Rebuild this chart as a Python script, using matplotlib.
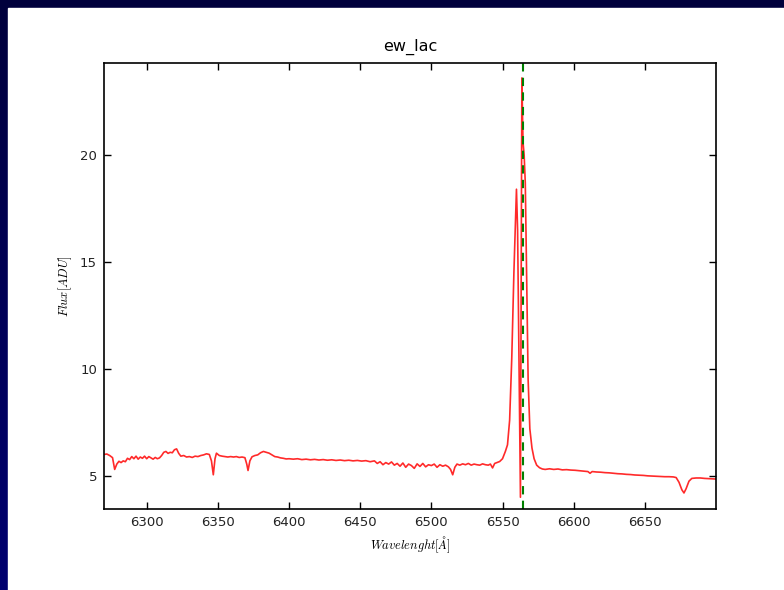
import numpy as np
import matplotlib
matplotlib.use("Agg")
import matplotlib.pyplot as plt
from matplotlib.patches import Rectangle

# spectrum
wavelength = [
    6270.0, 6272.0, 6274.0, 6276.0, 6277.5, 6279.0, 6280.5, 6282.0, 6283.5, 6285.0,
    6286.5, 6288.0, 6289.5, 6291.0, 6292.5, 6294.0, 6295.5, 6297.0, 6298.5, 6300.0,
    6301.5, 6303.0, 6304.5, 6306.0, 6307.5, 6309.0, 6310.5, 6312.0, 6313.5, 6315.0,
    6316.5, 6318.0, 6319.5, 6321.0, 6322.5, 6324.0, 6326.0, 6328.0, 6330.0, 6332.0,
    6334.0, 6336.0, 6338.0, 6340.0, 6342.0, 6344.0, 6345.5, 6346.8, 6348.0, 6349.0,
    6351.0, 6353.0, 6355.0, 6357.0, 6359.0, 6361.0, 6363.0, 6365.0, 6367.0, 6369.0,
    6370.3, 6371.2, 6372.5, 6374.0, 6376.0, 6378.0, 6380.0, 6382.0, 6384.0, 6386.0,
    6388.0, 6390.0, 6392.0, 6394.0, 6396.0, 6398.0, 6400.0, 6403.0, 6406.0, 6409.0,
    6412.0, 6415.0, 6418.0, 6421.0, 6424.0, 6427.0, 6430.0, 6433.0, 6436.0, 6439.0,
    6442.0, 6445.0, 6448.0, 6451.0, 6454.0, 6457.0, 6460.0, 6462.0, 6464.0, 6466.0,
    6468.0, 6470.0, 6472.0, 6474.0, 6476.0, 6478.0, 6480.0, 6482.0, 6484.0, 6486.0,
    6488.0, 6490.0, 6492.0, 6494.0, 6496.0, 6498.0, 6500.0, 6502.0, 6504.0, 6506.0,
    6508.0, 6510.0, 6512.0, 6513.5, 6515.0, 6516.5, 6518.0, 6520.0, 6522.0, 6524.0,
    6526.0, 6528.0, 6530.0, 6532.0, 6534.0, 6536.0, 6538.0, 6540.0, 6541.5, 6543.0,
    6544.5, 6546.0, 6548.0, 6550.0, 6552.0, 6553.5, 6555.0, 6556.5, 6558.0, 6559.8,
    6560.6, 6561.6, 6562.6, 6563.6, 6564.4, 6565.2, 6566.0, 6567.0, 6568.0, 6569.2,
    6570.7, 6572.2, 6574.0, 6576.0, 6578.0, 6580.0, 6583.0, 6586.0, 6589.0, 6592.0,
    6595.0, 6598.0, 6601.0, 6604.0, 6607.0, 6610.0, 6611.5, 6613.0, 6616.0, 6619.0,
    6622.0, 6625.0, 6628.0, 6631.0, 6634.0, 6637.0, 6640.0, 6643.0, 6646.0, 6649.0,
    6652.0, 6655.0, 6658.0, 6661.0, 6664.0, 6667.0, 6670.0, 6672.0, 6674.0, 6676.0,
    6677.5, 6679.0, 6681.0, 6683.0, 6686.0, 6689.0, 6692.0, 6695.0, 6698.0, 6700.0,
]
flux = [
    6.00, 6.02, 5.95, 5.85, 5.30, 5.55, 5.68, 5.62, 5.70, 5.66,
    5.82, 5.76, 5.90, 5.80, 5.92, 5.78, 5.88, 5.82, 5.92, 5.80,
    5.90, 5.84, 5.78, 5.86, 5.80, 5.84, 5.95, 6.10, 6.14, 6.05,
    6.10, 6.08, 6.22, 6.26, 6.05, 5.92, 5.95, 5.88, 5.90, 5.86,
    5.92, 5.90, 5.95, 5.98, 6.03, 6.00, 5.70, 5.05, 5.80, 6.06,
    5.95, 5.92, 5.90, 5.88, 5.90, 5.88, 5.90, 5.86, 5.88, 5.85,
    5.55, 5.25, 5.70, 5.89, 5.95, 5.98, 6.08, 6.14, 6.10, 6.06,
    5.98, 5.90, 5.88, 5.84, 5.82, 5.79, 5.80, 5.78, 5.80, 5.76,
    5.78, 5.75, 5.77, 5.74, 5.76, 5.73, 5.75, 5.72, 5.74, 5.71,
    5.73, 5.70, 5.72, 5.69, 5.71, 5.66, 5.70, 5.58, 5.66, 5.52,
    5.62, 5.55, 5.65, 5.50, 5.58, 5.45, 5.60, 5.40, 5.55, 5.48,
    5.35, 5.56, 5.44, 5.58, 5.42, 5.52, 5.48, 5.55, 5.40, 5.52,
    5.45, 5.50, 5.42, 5.30, 5.05, 5.40, 5.55, 5.50, 5.56, 5.52,
    5.58, 5.50, 5.55, 5.52, 5.50, 5.56, 5.52, 5.50, 5.55, 5.37,
    5.58, 5.62, 5.67, 5.80, 6.14, 6.45, 7.60, 10.5, 14.5, 18.4,
    16.5, 10.0, 4.00, 23.6, 20.6, 20.0, 18.7, 14.0, 9.5, 7.2,
    6.30, 5.80, 5.50, 5.38, 5.32, 5.30, 5.33, 5.30, 5.32, 5.28,
    5.29, 5.27, 5.26, 5.24, 5.22, 5.20, 5.12, 5.20, 5.18, 5.17,
    5.15, 5.14, 5.12, 5.10, 5.09, 5.07, 5.06, 5.04, 5.03, 5.02,
    5.00, 4.99, 4.98, 4.97, 4.96, 4.96, 4.95, 4.92, 4.70, 4.35,
    4.20, 4.40, 4.75, 4.88, 4.90, 4.90, 4.88, 4.87, 4.86, 4.85,
]
line_center = 6564.6
x_ticks = [6300, 6350, 6400, 6450, 6500, 6550, 6600, 6650]
y_ticks = [5, 10, 15, 20]

plt.rcParams['mathtext.fontset'] = 'cm'

fig = plt.figure(figsize=(7.84, 5.90), dpi=100)

# slide background: dark navy border and white panel
bg = fig.add_axes([0, 0, 1, 1], zorder=-10)
grad = np.linspace(0, 1, 256).reshape(-1, 1)
top_col = np.array([0x00, 0x00, 0x3c]) / 255
bot_col = np.array([0x00, 0x00, 0x70]) / 255
img = top_col + grad[:, :, None] * (bot_col - top_col)
bg.imshow(img, aspect='auto', extent=[0, 1, 0, 1], origin='upper')
bg.add_patch(Rectangle((8 / 784, 0), 1, (590 - 8) / 590, color='white',
                       transform=bg.transAxes))
bg.set_xlim(0, 1)
bg.set_ylim(0, 1)
bg.axis('off')

ax = fig.add_axes([104 / 784, (590 - 509) / 590, (716 - 104) / 784, (509 - 63) / 590])
ax.plot(wavelength, flux, color='#ff2a2a', lw=1.2)
ax.axvline(line_center, color='green', ls='--', lw=1.5, dashes=(4, 3))

ax.set_xlim(6270, 6700)
ax.set_ylim(3.45, 24.3)
ax.set_xticks(x_ticks)
ax.set_yticks(y_ticks)
ax.tick_params(direction='in', top=True, right=True, length=5, width=1,
               labelsize=9.5, colors='black', labelcolor='#222222', pad=5)
for s in ax.spines.values():
    s.set_linewidth(1.2)

ax.set_title('ew_lac', fontsize=11.5, pad=9)
ax.set_xlabel(r'$Wavelenght[\AA]$', fontsize=9)
ax.set_ylabel(r'$Flux[ADU]$', fontsize=9, labelpad=4)

fig.savefig('out.png', dpi=100)
